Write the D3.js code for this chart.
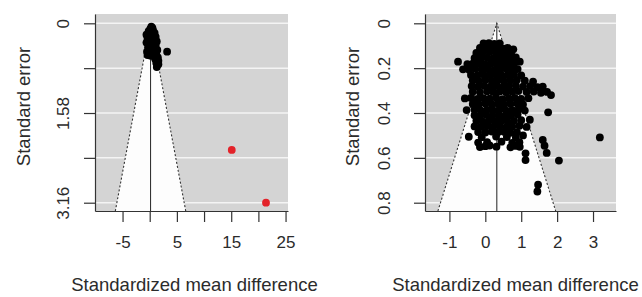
<!DOCTYPE html>
<html>
<head>
<meta charset="utf-8">
<script src="https://cdn.jsdelivr.net/npm/d3@7"></script>
<style>
html,body{margin:0;padding:0;background:#fff;}
svg{display:block;}
text{font-family:"Liberation Sans",Arial,sans-serif;fill:#2b2b2b;}
</style>
</head>
<body>
<svg id="chart" width="642" height="297"></svg>
<script>
// ---------- DATA ----------
const xTitle = "Standardized mean difference";
const yTitle = "Standard error";

// left panel
const leftXTicks = [-5, 0, 5, 10, 15, 20, 25];
const leftXLabels = ["-5", "", "5", "", "15", "", "25"];
const leftYTicks = [0, 0.79, 1.58, 2.37, 3.16];
const leftYLabels = ["0", "", "1.58", "", "3.16"];
const leftEstimate = 0.15;
const leftPoints = [
  [0.3,0.06],[0.5,0.08],[0.1,0.1],[0.6,0.12],[-0.2,0.14],[0.3,0.15],[0.9,0.17],
  [-0.6,0.2],[0.0,0.2],[0.5,0.22],[1.1,0.24],[-0.4,0.27],[0.2,0.28],[0.8,0.3],
  [1.3,0.32],[-0.6,0.34],[0.0,0.36],[0.5,0.37],[1.1,0.39],[-0.3,0.42],[0.3,0.43],
  [0.9,0.45],[1.4,0.47],[-0.5,0.5],[0.1,0.5],[0.6,0.52],[1.2,0.54],[3.2,0.5],
  [-0.4,0.56],[0.2,0.57],[0.8,0.58],[1.5,0.6],[1.0,0.63],[1.6,0.66],[1.2,0.7],
  [1.6,0.72],[1.3,0.77]
];
const leftOutliers = [[15.1,2.23],[21.4,3.16]];

// right panel
const rightXTicks = [-1, 0, 1, 2, 3];
const rightXLabels = ["-1", "0", "1", "2", "3"];
const rightYTicks = [0, 0.2, 0.4, 0.6, 0.8];
const rightYLabels = ["0", "0.2", "0.4", "0.6", "0.8"];
const rightEstimate = 0.32;
const rightPoints = [
  [-0.05,0.09],[0.1,0.088],[0.25,0.092],[0.4,0.09],
  [-0.15,0.11],[0.02,0.112],[0.18,0.108],[0.35,0.11],[0.5,0.113],[0.62,0.11],[0.78,0.116],
  [-0.25,0.132],[-0.08,0.13],[0.12,0.128],[0.3,0.133],[0.45,0.13],[0.6,0.135],[0.72,0.13],
  [-0.3,0.155],[-0.12,0.157],[0.05,0.153],[0.22,0.156],[0.38,0.154],[0.55,0.158],[0.7,0.155],[0.85,0.152],
  [-0.76,0.171],[0.96,0.171],
  [-0.5,0.182],[-0.35,0.18],[-0.18,0.178],[0.0,0.183],[0.15,0.18],[0.32,0.181],[0.48,0.177],[0.65,0.182],[0.8,0.18],
  [-0.62,0.205],[-0.45,0.207],[-0.28,0.203],[-0.1,0.206],[0.08,0.204],[0.25,0.208],[0.42,0.205],[0.58,0.203],[0.75,0.207],[0.9,0.204],
  [-0.4,0.23],[-0.22,0.232],[-0.05,0.228],[0.12,0.231],[0.3,0.229],[0.47,0.233],[0.63,0.23],[0.8,0.228],[1.0,0.232],
  [-0.35,0.255],[-0.18,0.257],[0.0,0.253],[0.18,0.256],[0.35,0.254],[0.52,0.258],[0.7,0.255],[0.88,0.252],[1.1,0.256],[1.33,0.26],
  [-0.38,0.28],[-0.2,0.282],[-0.03,0.279],[0.15,0.281],[0.32,0.278],[0.5,0.283],[0.66,0.28],[0.85,0.277],[1.05,0.282],[1.25,0.28],[1.45,0.285],[1.6,0.282],
  [-0.35,0.305],[-0.15,0.307],[0.05,0.303],[0.22,0.306],[0.4,0.304],[0.58,0.308],[0.75,0.305],[0.92,0.302],[1.15,0.306],[1.35,0.304],[1.55,0.31],[1.72,0.306],[1.83,0.32],
  [-0.57,0.335],[-0.4,0.333],[-0.22,0.337],[-0.05,0.334],[0.12,0.336],[0.3,0.332],[0.48,0.338],[0.65,0.335],[0.82,0.333],[1.0,0.337],[1.2,0.334],
  [-0.35,0.36],[-0.18,0.362],[0.0,0.358],[0.18,0.361],[0.35,0.359],[0.52,0.363],[0.7,0.36],[0.88,0.357],[1.05,0.362],
  [-0.52,0.387],[-0.3,0.385],[-0.12,0.389],[0.05,0.386],[0.22,0.388],[0.4,0.384],[0.58,0.39],[0.75,0.387],[0.92,0.385],[1.1,0.389],[1.75,0.397],
  [-0.3,0.41],[-0.15,0.412],[0.02,0.408],[0.2,0.411],[0.38,0.409],[0.55,0.413],[0.72,0.41],[0.9,0.407],
  [-0.25,0.435],[-0.08,0.437],[0.1,0.433],[0.28,0.436],[0.45,0.434],[0.62,0.438],[0.8,0.435],[1.0,0.432],[1.24,0.43],
  [-0.3,0.46],[-0.12,0.462],[0.05,0.458],[0.22,0.461],[0.4,0.459],[0.58,0.463],[0.75,0.46],[0.95,0.457],[1.15,0.462],
  [-0.2,0.485],[0.0,0.487],[0.18,0.483],[0.35,0.486],[0.52,0.484],[0.7,0.488],[0.88,0.485],[1.05,0.5],
  [-0.46,0.506],[-0.1,0.508],[0.3,0.505],[0.6,0.507],[0.85,0.509],
  [-0.2,0.532],[0.05,0.53],[0.45,0.528],[0.75,0.533],[0.95,0.53],[1.6,0.52],
  [-0.15,0.552],[0.0,0.548],[0.12,0.545],[0.31,0.55],[0.7,0.553],[0.85,0.547],[0.96,0.551],[1.65,0.546],
  [1.12,0.58],[1.71,0.578],[1.12,0.61],[2.05,0.612],[3.19,0.509],[1.47,0.72],[1.45,0.75]
];

// ---------- DRAW ----------
const svg = d3.select("#chart");
const TOP = 14, BOTTOM = 211;

function drawPanel(p) {
  const x = d3.scaleLinear().domain(p.xDomain).range([p.x0, p.x1]);
  const y = d3.scaleLinear().domain(p.yDomain).range([TOP, BOTTOM]);
  const g = svg.append("g");
  const clipId = "clip" + p.id;
  svg.append("clipPath").attr("id", clipId).append("rect")
    .attr("x", p.x0).attr("y", TOP).attr("width", p.x1 - p.x0).attr("height", BOTTOM - TOP);

  g.append("rect").attr("x", p.x0).attr("y", TOP)
    .attr("width", p.x1 - p.x0).attr("height", BOTTOM - TOP).attr("fill", "#d4d4d4");

  g.selectAll("line.grid").data(p.yTicks).join("line").attr("class", "grid")
    .attr("x1", p.x0).attr("x2", p.x1).attr("y1", d => y(d)).attr("y2", d => y(d))
    .attr("stroke", "#f4f4f4").attr("stroke-width", 1.5);

  const seMax = p.yDomain[1];
  const apex = [x(p.est), y(0)];
  const bl = [x(p.est - 1.96 * seMax), y(seMax)];
  const br = [x(p.est + 1.96 * seMax), y(seMax)];
  const fg = g.append("g").attr("clip-path", `url(#${clipId})`);
  fg.append("path").attr("d", d3.line()([apex, bl, br])+"Z").attr("fill", "#fdfdfd");
  fg.append("path").attr("d", d3.line()([bl, apex, br]))
    .attr("fill", "none").attr("stroke", "#333").attr("stroke-width", 1.1).attr("stroke-dasharray", "2,2");
  fg.append("line").attr("x1", x(p.est)).attr("x2", x(p.est)).attr("y1", y(0)).attr("y2", BOTTOM)
    .attr("stroke", "#333").attr("stroke-width", 1.1);

  fg.selectAll("circle.pt").data(p.points).join("circle").attr("class", "pt")
    .attr("cx", d => x(d[0])).attr("cy", d => y(d[1])).attr("r", 3.9).attr("fill", "#000");
  fg.selectAll("circle.out").data(p.outliers).join("circle").attr("class", "out")
    .attr("cx", d => x(d[0])).attr("cy", d => y(d[1])).attr("r", 3.9).attr("fill", "#e3232a");

  // axes
  const ya = g.append("g").attr("transform", `translate(${p.x0},0)`)
    .call(d3.axisLeft(y).tickValues(p.yTicks).tickFormat((d, i) => p.yLabels[i]).tickSize(11).tickSizeOuter(0));
  const xa = g.append("g").attr("transform", `translate(0,${BOTTOM})`)
    .call(d3.axisBottom(x).tickValues(p.xTicks).tickFormat((d, i) => p.xLabels[i]).tickSize(11).tickSizeOuter(0));
  [ya, xa].forEach(a => {
    a.selectAll("path.domain").attr("stroke", "#333").attr("stroke-width", 1.2);
    a.selectAll(".tick line").attr("stroke", "#333").attr("stroke-width", 1.2);
    a.selectAll("text").attr("fill", "#2b2b2b").style("font-family", '"Liberation Sans",Arial,sans-serif');
  });
  ya.selectAll(".tick text").attr("transform", "rotate(-90)").attr("x", 0).attr("y", -p.yLabelOff)
    .attr("dy", 0).style("text-anchor", "middle").style("font-size", "17px");
  xa.selectAll(".tick text").attr("y", 37).attr("dy", 0).style("font-size", "17px");

  svg.append("text").attr("x", (p.x0 + p.x1) / 2 + p.titleShift).attr("y", 291)
    .attr("text-anchor", "middle").style("font-size", "18.5px").text(xTitle);
  svg.append("text").attr("transform", `translate(${p.yTitleX},${(TOP + BOTTOM) / 2 - 6}) rotate(-90)`)
    .attr("text-anchor", "middle").style("font-size", "18.5px").text(yTitle);
}

drawPanel({
  id: "L", x0: 95, x1: 288, xDomain: [-10.07, 25.45], yDomain: [-0.164, 3.306],
  xTicks: leftXTicks, xLabels: leftXLabels, yTicks: leftYTicks, yLabels: leftYLabels,
  est: leftEstimate, points: leftPoints, outliers: leftOutliers,
  yLabelOff: 26, yTitleX: 30, titleShift: 3
});
drawPanel({
  id: "R", x0: 425, x1: 616, xDomain: [-1.68, 3.64], yDomain: [-0.0415, 0.837],
  xTicks: rightXTicks, xLabels: rightXLabels, yTicks: rightYTicks, yLabels: rightYLabels,
  est: rightEstimate, points: rightPoints, outliers: [],
  yLabelOff: 35, yTitleX: 359, titleShift: -5
});
</script>
</body>
</html>
